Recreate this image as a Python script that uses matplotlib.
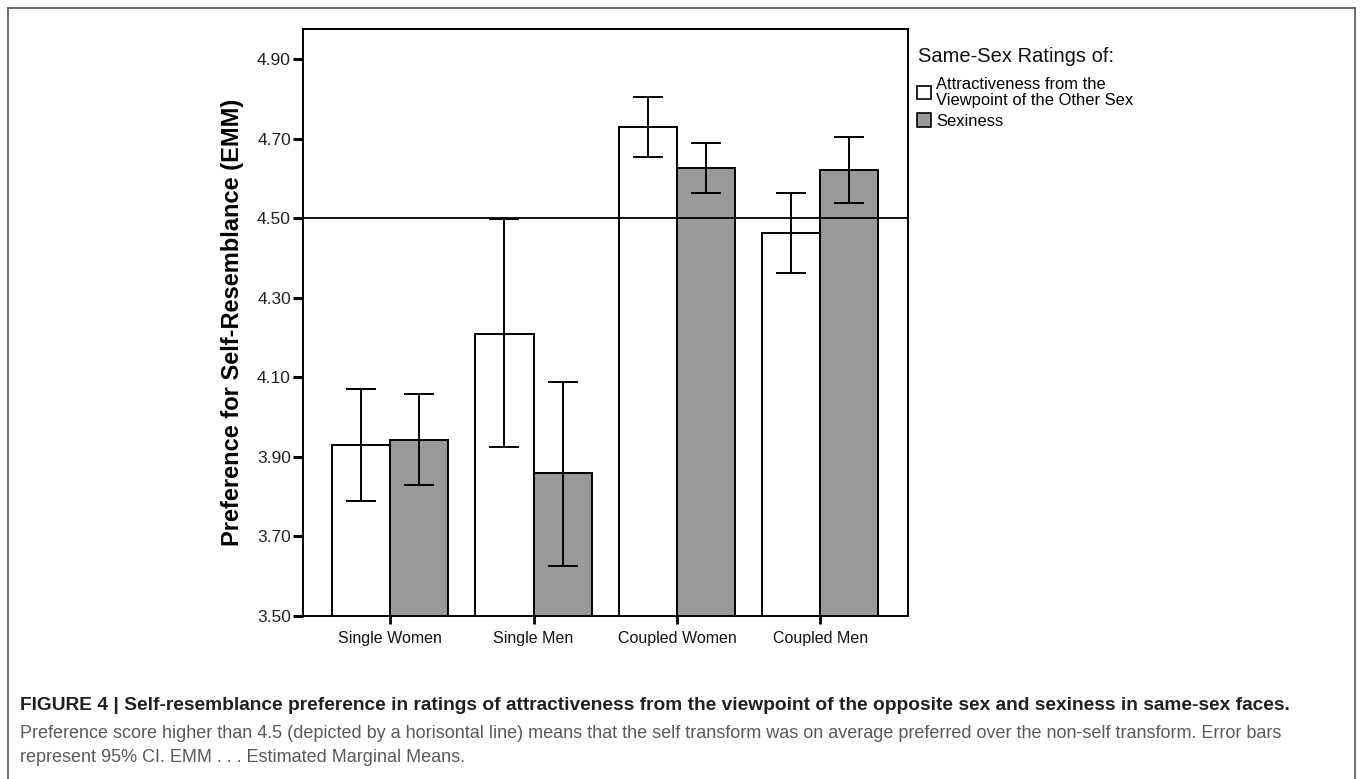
import matplotlib
matplotlib.use("Agg")
import matplotlib.pyplot as plt
from matplotlib.patches import Patch
from matplotlib.lines import Line2D
from matplotlib import font_manager
import numpy as np

# ---------------- data ----------------
categories = ["Single Women", "Single Men", "Coupled Women", "Coupled Men"]
series_names = ["Attractiveness from the\nViewpoint of the Other Sex", "Sexiness"]
attract_mean = [3.930, 4.209, 4.730, 4.464]
attract_low = [3.790, 3.925, 4.654, 4.362]
attract_high = [4.070, 4.497, 4.806, 4.564]
sexy_mean = [3.943, 3.859, 4.626, 4.621]
sexy_low = [3.829, 3.626, 4.564, 4.539]
sexy_high = [4.058, 4.088, 4.690, 4.703]
yticks = [3.50, 3.70, 3.90, 4.10, 4.30, 4.50, 4.70, 4.90]
reference_value = 4.5
ylabel = "Preference for Self-Resemblance (EMM)"
legend_title = "Same-Sex Ratings of:"
caption_bold = ("FIGURE 4 | Self-resemblance preference in ratings of attractiveness from the "
                "viewpoint of the opposite sex and sexiness in same-sex faces.")
caption_l2 = ("Preference score higher than 4.5 (depicted by a horisontal line) means that the "
              "self transform was on average preferred over the non-self transform. Error bars")
caption_l3 = "represent 95% CI. EMM . . . Estimated Marginal Means."

# ---------------- fonts ----------------
avail = {f.name for f in font_manager.fontManager.ttflist}
base = "Liberation Sans" if "Liberation Sans" in avail else "DejaVu Sans"
narrow = "Liberation Sans Narrow" if "Liberation Sans Narrow" in avail else base
plt.rcParams["font.family"] = [base, "DejaVu Sans"]

W, H = 1360, 779
fig = plt.figure(figsize=(W / 100, H / 100), dpi=100)
fig.patch.set_facecolor("white")

ax = fig.add_axes([302.7 / W, 1 - 616 / H, (908.3 - 302.7) / W, (616 - 29.3) / H])

x = np.arange(len(categories))
bw = 0.405
lw = 1.4
gray = "#999999"

ax.bar(x - bw / 2, attract_mean, width=bw, color="white", edgecolor="black",
       linewidth=lw, zorder=2)
ax.bar(x + bw / 2, sexy_mean, width=bw, color=gray, edgecolor="black", linewidth=lw, zorder=2)

ax.axhline(reference_value, color="black", linewidth=1.3, zorder=3)

am = np.array(attract_mean)
sm = np.array(sexy_mean)
ax.errorbar(x - bw / 2, am, yerr=[am - np.array(attract_low), np.array(attract_high) - am],
            fmt="none", ecolor="black", elinewidth=1.4, capsize=10.5, capthick=1.4, zorder=4)
ax.errorbar(x + bw / 2, sm, yerr=[sm - np.array(sexy_low), np.array(sexy_high) - sm],
            fmt="none", ecolor="black", elinewidth=1.4, capsize=10.5, capthick=1.4, zorder=4)

ax.set_ylim(3.5, 4.975)
ax.set_xlim(-0.61, 3.614)
ax.set_yticks(yticks)
ax.set_yticklabels([f"{v:.2f}" for v in yticks])
ax.set_xticks(x)
ax.set_xticklabels(categories)
for s in ax.spines.values():
    s.set_linewidth(1.4)
ax.tick_params(axis="y", direction="out", length=7.5, width=2.2, labelsize=12.5, pad=1,
               labelcolor="#222222")
ax.tick_params(axis="x", direction="out", length=6, width=2.0, labelsize=11.5, pad=5,
               labelcolor="#111111")
ax.set_ylabel(ylabel, fontsize=17, fontweight="bold")
ax.yaxis.label.set_va("center")
ax.yaxis.set_label_coords((233 - 302.7) / 605.6, 0.5)

# ---------------- legend ----------------
fig.text(918 / W, 1 - 57 / H, legend_title, fontsize=14.5, color="#111111",
         ha="left", va="center")
handles = [Patch(facecolor="white", edgecolor="black", linewidth=1.2),
           Patch(facecolor=gray, edgecolor="black", linewidth=1.2)]
leg = fig.legend(handles, series_names, loc="upper left",
                 bbox_to_anchor=(917 / W, 1 - 77 / H), frameon=False,
                 fontsize=11.9,
                 handlelength=0.85, handleheight=0.85, handletextpad=0.3,
                 labelspacing=0.35, borderaxespad=0, borderpad=0)
for t in leg.get_texts():
    t.set_linespacing(1.05)

# ---------------- frame around figure ----------------
fig.add_artist(Line2D([8 / W, 1355 / W], [1 - 8 / H, 1 - 8 / H], color="#555555", linewidth=1.2))
fig.add_artist(Line2D([8 / W, 8 / W], [1 - 8 / H, 0], color="#555555", linewidth=1.2))
fig.add_artist(Line2D([1355 / W, 1355 / W], [1 - 8 / H, 0], color="#555555", linewidth=1.2))

# ---------------- caption ----------------
fig.text(20 / W, 1 - 705 / H, caption_bold, family=[narrow, "DejaVu Sans"], fontweight="bold",
         fontsize=13.8, color="#231f20", va="center", ha="left")
fig.text(20 / W, 1 - 734 / H, caption_l2, family=[narrow, "DejaVu Sans"],
         fontsize=13, color="#58595b", va="center", ha="left")
fig.text(20 / W, 1 - 758 / H, caption_l3, family=[narrow, "DejaVu Sans"],
         fontsize=13, color="#58595b", va="center", ha="left")

fig.savefig("out.png", dpi=100, facecolor="white")
